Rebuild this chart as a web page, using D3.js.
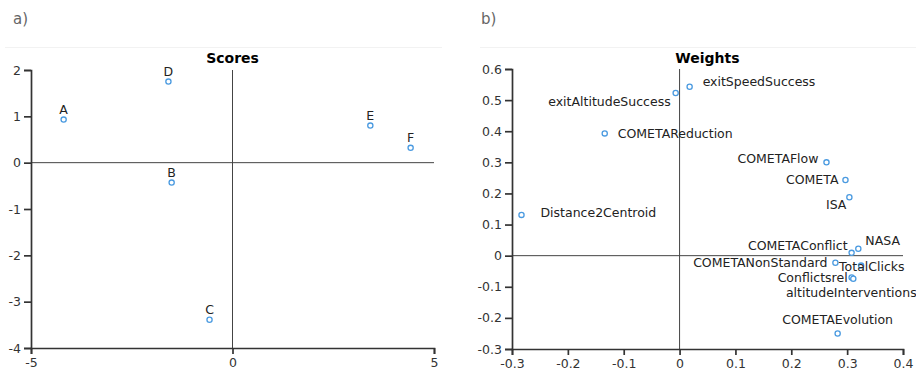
<!DOCTYPE html>
<html lang="en">
<head>
<meta charset="UTF-8">
<title>Scores and Weights</title>
<script src="https://d3js.org/d3.v7.min.js"></script>
<style>
  body { margin: 0; background: #fff; font-family: "DejaVu Sans", sans-serif; }
  .tick text { fill: #333; font-size: 12.5px; font-family: "DejaVu Sans", sans-serif; }
  .domain, .tick line { stroke: #333; }
</style>
</head>
<body>
<div id="chart"></div>
<script>
// scores panel
const scoreNames = ["A", "B", "C", "D", "E", "F"];
const scoreX = [-4.19, -1.51, -0.57, -1.59, 3.42, 4.42];
const scoreY = [0.93, -0.43, -3.39, 1.75, 0.80, 0.32];
const scoreXTicks = [-5, 0, 5];
const scoreYTicks = [-4, -3, -2, -1, 0, 1, 2];

// weights panel
const weightNames = ["exitSpeedSuccess", "exitAltitudeSuccess", "COMETAReduction", "COMETAFlow",
  "COMETA", "ISA", "Distance2Centroid", "COMETAConflict", "NASA", "COMETANonStandard",
  "TotalClicks", "Conflictsrel", "altitudeInterventions", "COMETAEvolution"];
const weightX = [0.018, -0.007, -0.134, 0.263, 0.297, 0.304, -0.283, 0.308, 0.320, 0.279,
  0.325, 0.308, 0.311, 0.283];
const weightY = [0.543, 0.523, 0.393, 0.300, 0.243, 0.188, 0.131, 0.009, 0.022, -0.023,
  -0.032, -0.070, -0.074, -0.250];
const weightXTicks = [-0.3, -0.2, -0.1, 0, 0.1, 0.2, 0.3, 0.4];
const weightYTicks = [-0.3, -0.2, -0.1, 0, 0.1, 0.2, 0.3, 0.4, 0.5, 0.6];

// where each weight label sits relative to its marker
const weightLabelPos = {
  exitSpeedSuccess: ["start", 13, -1],
  exitAltitudeSuccess: ["end", -5, 13],
  COMETAReduction: ["start", 13, 5],
  COMETAFlow: ["end", -8, 1],
  COMETA: ["end", -7, 4],
  ISA: ["end", -3, 12],
  Distance2Centroid: ["start", 19, 2],
  COMETAConflict: ["end", -4, -3],
  NASA: ["start", 7, -4],
  COMETANonStandard: ["end", -8, 4],
  TotalClicks: ["start", -22, 5],
  Conflictsrel: ["end", -4, 4.5],
  altitudeInterventions: ["middle", -2, 18.5],
  COMETAEvolution: ["middle", 0, -9]
};

const W = 916, H = 378;
const svg = d3.select("#chart").append("svg")
  .attr("width", W).attr("height", H);

function panel(opts) {
  const x = d3.scaleLinear().domain(opts.xDomain).range([opts.left, opts.right]);
  const y = d3.scaleLinear().domain(opts.yDomain).range([opts.bottom, opts.top]);
  const g = svg.append("g");

  // panel letter and faint separator
  g.append("text")
    .attr("x", opts.letterX).attr("y", 24)
    .attr("font-size", 15).attr("fill", "#666")
    .text(opts.letter);
  g.append("line")
    .attr("x1", opts.sepX1).attr("x2", opts.sepX2)
    .attr("y1", 47.5).attr("y2", 47.5)
    .attr("stroke", "#f2f2f2");

  g.append("text")
    .attr("x", (opts.left + opts.right) / 2).attr("y", 63)
    .attr("text-anchor", "middle")
    .attr("font-size", 14).attr("font-weight", "bold")
    .text(opts.title);

  // zero lines
  g.append("line")
    .attr("x1", x(0)).attr("x2", x(0))
    .attr("y1", opts.top).attr("y2", opts.bottom)
    .attr("stroke", "#444").attr("stroke-width", 1);
  g.append("line")
    .attr("x1", opts.left).attr("x2", opts.right)
    .attr("y1", y(0)).attr("y2", y(0))
    .attr("stroke", "#444").attr("stroke-width", 1);

  g.append("g")
    .attr("transform", `translate(0,${opts.bottom})`)
    .call(d3.axisBottom(x).tickValues(opts.xTicks).tickSize(6).tickPadding(4)
      .tickFormat(opts.fmt))
    .call(a => a.selectAll(".domain, .tick line").attr("stroke-width", 1.7));
  g.append("g")
    .attr("transform", `translate(${opts.left},0)`)
    .call(d3.axisLeft(y).tickValues(opts.yTicks).tickSize(7).tickPadding(3)
      .tickFormat(opts.fmt))
    .call(a => a.selectAll(".domain, .tick line").attr("stroke-width", 1.7));

  const pts = opts.names.map((n, i) => ({ name: n, x: opts.xs[i], y: opts.ys[i] }));
  g.selectAll("circle.pt").data(pts).enter().append("circle")
    .attr("class", "pt")
    .attr("cx", d => x(d.x)).attr("cy", d => y(d.y))
    .attr("r", 2.6)
    .attr("fill", "#fff").attr("stroke", "#4a9ae0").attr("stroke-width", 1.3);

  g.selectAll("text.lbl").data(pts).enter().append("text")
    .attr("class", "lbl")
    .attr("x", d => x(d.x) + opts.label(d)[1])
    .attr("y", d => y(d.y) + opts.label(d)[2])
    .attr("text-anchor", d => opts.label(d)[0])
    .attr("font-size", 12.5).attr("fill", "#222")
    .text(d => d.name);
}

const fmt = d => (d < 0 ? "-" : "") + d3.format("")(Math.abs(d));

panel({
  letter: "a)", letterX: 13, sepX1: 5, sepX2: 442,
  title: "Scores",
  left: 31, right: 434, top: 70, bottom: 348,
  xDomain: [-5, 5], yDomain: [-4, 2],
  xTicks: scoreXTicks, yTicks: scoreYTicks,
  fmt: fmt,
  names: scoreNames, xs: scoreX, ys: scoreY,
  label: () => ["middle", 0, -6]
});

panel({
  letter: "b)", letterX: 481, sepX1: 480, sepX2: 916,
  title: "Weights",
  left: 512, right: 903, top: 69, bottom: 349,
  xDomain: [-0.3, 0.4], yDomain: [-0.3, 0.6],
  xTicks: weightXTicks, yTicks: weightYTicks,
  fmt: d => fmt(+d.toFixed(1)),
  names: weightNames, xs: weightX, ys: weightY,
  label: d => weightLabelPos[d.name]
});
</script>
</body>
</html>
